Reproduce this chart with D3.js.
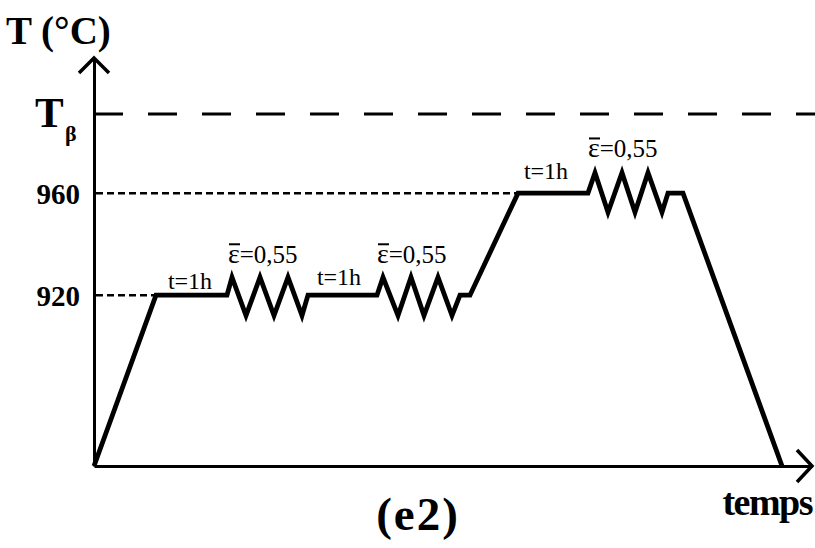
<!DOCTYPE html>
<html lang="fr">
<head>
<meta charset="UTF-8">
<script src="https://d3js.org/d3.v7.min.js"></script>
<style>
    body { margin: 0; background: #fff; }
    svg { display: block; }
</style>
</head>
<body>
<svg id="viz" width="815" height="548"></svg>
<script>
    // schematic thermo-mechanical cycle (time in arbitrary units, temperature in °C)
    var times = [0, 62, 133, 138, 152, 166, 180, 194, 208, 214, 283, 289, 304, 317, 330, 344, 358, 366,
                 376, 424, 494, 501, 514, 528, 541, 554, 568, 574, 589, 688];
    var temps = [853, 920, 920, 927, 912, 927, 912, 927, 912, 920, 920, 927, 912, 927, 912, 927, 912, 920,
                 920, 960, 960, 968, 952.5, 968, 952.5, 968, 952.5, 960, 960, 853];
    var tempTicks = [920, 960];
    var tBeta = 991;
    var holdTimes = [96, 245, 452];            // "t=1h" labels (anchor)
    var holdTemps = [922.5, 924, 965.5];
    var strainTimes = [134, 283, 494];         // strain labels (anchor)
    var strainTemps = [932.5, 932.5, 974];
    var strainText = "=0,55";

    var serif = "Liberation Serif, Times New Roman, serif";
    var svg = d3.select("#viz");
    var x = d3.scaleLinear().domain([0, 718]).range([94, 812]);
    var y = d3.scaleLinear().domain([853, 1013]).range([466, 58]);

    // dashed reference lines
    svg.append("line")
        .attr("x1", x(0)).attr("x2", 815)
        .attr("y1", y(tBeta)).attr("y2", y(tBeta))
        .attr("stroke", "#000").attr("stroke-width", 3)
        .attr("stroke-dasharray", "29,25");

    tempTicks.forEach(function(T) {
        var i = temps.indexOf(T);
        svg.append("line")
            .attr("x1", x(0) + 2).attr("x2", x(times[i]))
            .attr("y1", y(T)).attr("y2", y(T))
            .attr("stroke", "#000").attr("stroke-width", 2.5)
            .attr("stroke-dasharray", "7,4");
    });

    // axes
    var yAxis = d3.axisLeft(y).tickValues(tempTicks).tickSize(0).tickPadding(14)
        .tickFormat(d3.format("d"));
    var gy = svg.append("g").attr("transform", "translate(" + x(0) + ",0)").call(yAxis);
    gy.attr("font-family", serif);
    gy.select(".domain").attr("stroke-width", 3);
    gy.selectAll(".tick text")
        .attr("font-family", serif).attr("font-weight", "bold")
        .attr("font-size", 29).attr("dy", "0.36em");

    var xAxis = d3.axisBottom(x).tickValues([]).tickSizeOuter(0);
    var gx = svg.append("g").attr("transform", "translate(0," + y(853) + ")").call(xAxis);
    gx.select(".domain").attr("stroke-width", 3);

    // arrow heads
    svg.append("path")
        .attr("d", "M" + (x(0) - 15) + "," + (y(1013) + 15) + "L" + x(0) + "," + y(1013) + "L" + (x(0) + 15) + "," + (y(1013) + 15))
        .attr("fill", "none").attr("stroke", "#000").attr("stroke-width", 3.5);
    svg.append("path")
        .attr("d", "M" + (x(718) - 15) + "," + (y(853) - 16) + "L" + x(718) + "," + y(853) + "L" + (x(718) - 15) + "," + (y(853) + 16))
        .attr("fill", "none").attr("stroke", "#000").attr("stroke-width", 3.5);

    // cycle
    var line = d3.line().x(function(d) { return x(d[0]); }).y(function(d) { return y(d[1]); });
    svg.append("path")
        .datum(d3.zip(times, temps))
        .attr("d", line)
        .attr("fill", "none").attr("stroke", "#000")
        .attr("stroke-width", 4.8).attr("stroke-linejoin", "miter");

    // axis titles
    svg.append("text").attr("x", 6).attr("y", 44).attr("font-family", serif)
        .attr("font-weight", "bold").attr("font-size", 39).text("T (°C)");

    svg.append("text").attr("x", 35).attr("y", 127).attr("font-family", serif)
        .attr("font-weight", "bold").attr("font-size", 43).text("T");
    svg.append("text").attr("x", 65).attr("y", 141).attr("font-family", serif)
        .attr("font-weight", "bold").attr("font-size", 22).text("β");

    svg.append("text").attr("x", 812).attr("y", 515).attr("text-anchor", "end").attr("font-family", serif)
        .attr("font-weight", "bold").attr("font-size", 38).attr("letter-spacing", -1.5).text("temps");

    svg.append("text").attr("x", 418).attr("y", 530).attr("text-anchor", "middle").attr("font-family", serif)
        .attr("font-weight", "bold").attr("font-size", 47).attr("letter-spacing", 2).text("(e2)");

    // hold labels
    holdTimes.forEach(function(t, i) {
        svg.append("text").attr("x", x(t)).attr("y", y(holdTemps[i])).attr("font-family", serif)
            .attr("text-anchor", "middle").attr("font-size", 24).text("t=1h");
    });

    // strain labels
    strainTimes.forEach(function(t, i) {
        var lx = x(t), ly = y(strainTemps[i]);
        var tx = svg.append("text").attr("x", lx).attr("y", ly).attr("font-family", serif).attr("font-size", 25);
        tx.append("tspan").attr("font-size", 28).text("ε");
        tx.append("tspan").text(strainText);
        svg.append("line")
            .attr("x1", lx + 1).attr("x2", lx + 12)
            .attr("y1", ly - 19).attr("y2", ly - 19)
            .attr("stroke", "#000").attr("stroke-width", 2);
    });
</script>
</body>
</html>
